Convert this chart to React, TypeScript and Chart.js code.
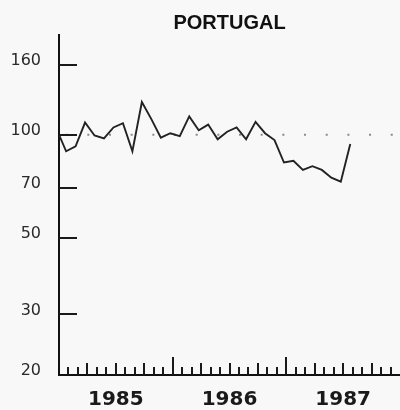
import React, { useEffect, useRef } from "react";
import { Chart, registerables } from "chart.js";

Chart.register(...registerables);

const TITLE = "PORTUGAL";
const yearLabels = ["1985", "1986", "1987"];
const yearLabelMonths = [6, 18, 30];
const yTickValues = [20, 30, 50, 70, 100, 160];
const referenceLevel = 100;
// monthly index values, starting January 1985
const monthlyIndex = [
  100, 89.5, 92.5, 108.5, 99.5, 97.5, 105, 108, 89.5, 124.5, 111, 98,
  101, 99, 113, 103, 107, 97, 102, 105, 97, 109, 101, 96.5,
  83, 84, 79, 81, 79, 75, 73, 94,
];
const X_MIN = 0;
const X_MAX = 36;
const Y_MIN = 20;
const Y_MAX = 195;

const marksPlugin = {
  id: "marks",
  beforeDraw(chart: any) {
    const { ctx, width, height } = chart;
    ctx.save();
    ctx.fillStyle = "#f8f8f8";
    ctx.fillRect(0, 0, width, height);
    ctx.restore();
  },
  afterDraw(chart: any) {
    const { ctx, chartArea: a, scales } = chart;
    const x = scales.x;
    const y = scales.y;
    ctx.save();
    ctx.strokeStyle = "#1a1a1a";
    ctx.lineWidth = 2;
    yTickValues.forEach((v) => {
      if (v <= Y_MIN) return;
      const py = Math.round(y.getPixelForValue(v));
      ctx.beginPath();
      ctx.moveTo(a.left, py);
      ctx.lineTo(a.left + 18, py);
      ctx.stroke();
    });
    for (let m = X_MIN + 1; m < X_MAX; m++) {
      const px = Math.round(x.getPixelForValue(m));
      const h = m % 12 === 0 ? 18 : m % 3 === 0 ? 12 : 8;
      ctx.beginPath();
      ctx.moveTo(px, a.bottom);
      ctx.lineTo(px, a.bottom - h);
      ctx.stroke();
    }
    ctx.fillStyle = "#111";
    ctx.font = 'bold 20px "Liberation Sans"';
    ctx.textAlign = "center";
    ctx.textBaseline = "middle";
    ctx.fillText(TITLE, (a.left + a.right) / 2, 23);
    ctx.restore();
  },
};

export default function App() {
  const ref = useRef<HTMLCanvasElement | null>(null);
  useEffect(() => {
    document.body.style.margin = "0";
    const canvas = ref.current!;
    const chart = new Chart(canvas, {
      type: "line",
      data: {
        datasets: [
          {
            data: monthlyIndex.map((v, i) => ({ x: Math.max(0, i - 0.25), y: v })),
            borderColor: "#222",
            borderWidth: 1.9,
            pointRadius: 0,
            tension: 0,
            order: 0,
          },
          {
            data: [
              { x: X_MIN, y: referenceLevel },
              { x: X_MAX, y: referenceLevel },
            ],
            borderColor: "#8a8a8a",
            borderWidth: 2,
            borderDash: [2, 19.67],
            borderDashOffset: 15,
            pointRadius: 0,
            order: 1,
          },
        ],
      },
      options: {
        animation: false,
        responsive: false,
        maintainAspectRatio: false,
        layout: { padding: { top: 35, left: 0, right: 0, bottom: 0 } },
        plugins: { legend: { display: false }, tooltip: { enabled: false }, title: { display: false } },
        scales: {
          x: {
            type: "linear",
            min: X_MIN,
            max: X_MAX,
            grid: { display: false, drawTicks: false },
            border: { display: true, color: "#111", width: 2 },
            afterBuildTicks: (s: any) => {
              s.ticks = yearLabelMonths.map((v) => ({ value: v }));
            },
            afterFit: (s: any) => {
              s.height = 35;
            },
            ticks: {
              autoSkip: false,
              maxRotation: 0,
              padding: 13,
              color: "#1a1a1a",
              font: { family: "DejaVu Sans", size: 20, weight: "bold" },
              callback: (v: any) => yearLabels[yearLabelMonths.indexOf(Number(v))] ?? "",
            },
          },
          y: {
            type: "logarithmic",
            min: Y_MIN,
            max: Y_MAX,
            grid: { display: false, drawTicks: false },
            border: { display: true, color: "#111", width: 2 },
            afterBuildTicks: (s: any) => {
              s.ticks = yTickValues.map((v) => ({ value: v }));
            },
            afterFit: (s: any) => {
              s.width = 59;
            },
            ticks: {
              autoSkip: false,
              padding: 18,
              labelOffset: -4,
              color: "#2a2a2a",
              font: { family: "DejaVu Sans", size: 16 },
              callback: (v: any) => String(v),
            },
          },
        },
      },
      plugins: [marksPlugin],
    });
    return () => chart.destroy();
  }, []);
  return <canvas ref={ref} width={400} height={410} style={{ display: "block", width: 400, height: 410 }} />;
}
